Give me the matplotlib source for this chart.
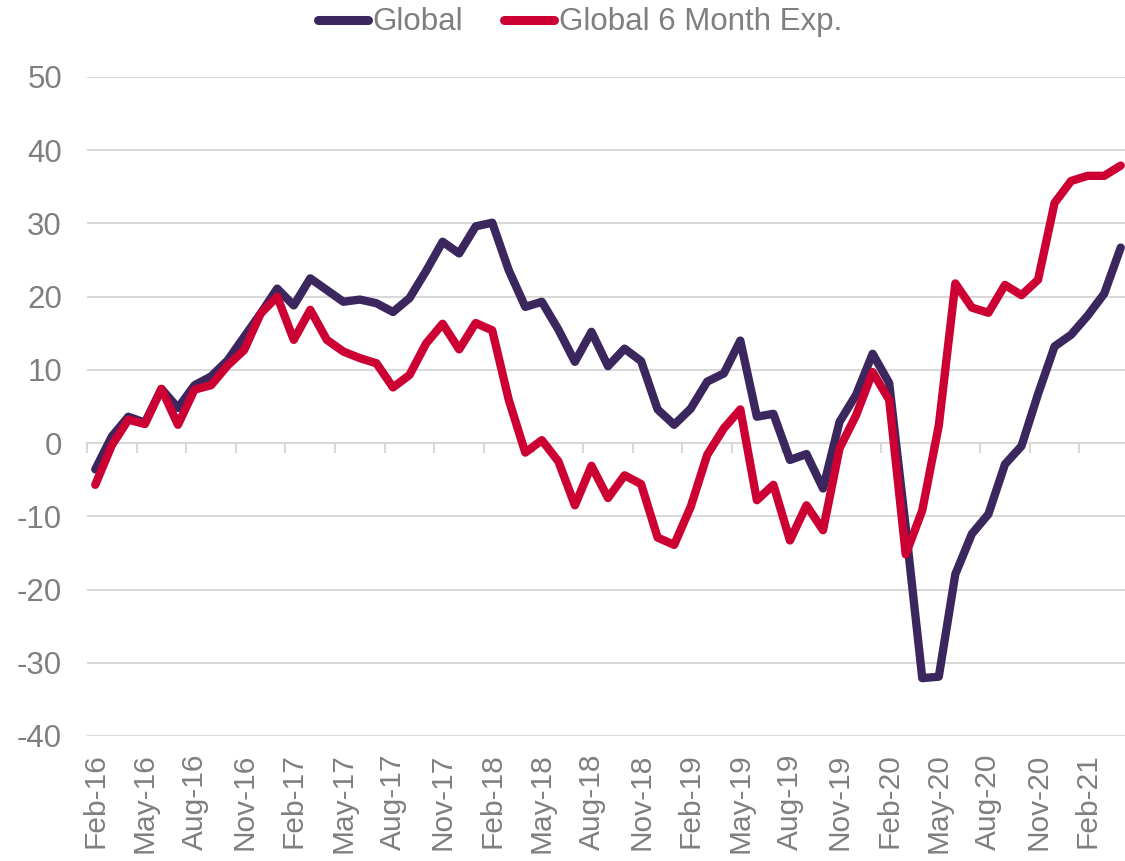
import matplotlib
matplotlib.use("Agg")
import matplotlib.pyplot as plt
import numpy as np

plt.rcParams['font.family'] = ['Liberation Sans', 'DejaVu Sans']
plt.rcParams['axes.unicode_minus'] = False

# monthly, Feb-16 .. Apr-21
months = ['Feb', 'Mar', 'Apr', 'May', 'Jun', 'Jul', 'Aug', 'Sep', 'Oct', 'Nov', 'Dec', 'Jan']
n_points = 63

global_idx = [-3.6, 0.9, 3.6, 2.8, 7.4, 4.8, 7.9, 9.1, 11.3, 14.5,
              17.7, 21.1, 18.8, 22.5, 20.9, 19.3, 19.6, 19.1, 17.9, 19.8,
              23.5, 27.5, 25.9, 29.6, 30.1, 23.6, 18.6, 19.3, 15.5, 11.1,
              15.2, 10.5, 12.9, 11.2, 4.6, 2.5, 4.7, 8.4, 9.5, 14.0,
              3.6, 4.0, -2.3, -1.5, -6.2, 2.9, 6.6, 12.2, 8.2, -11.5,
              -32.1, -31.9, -17.9, -12.4, -9.7, -2.9, -0.4, 6.7, 13.2, 14.8,
              17.4, 20.4, 26.7]

global_6m = [-5.7, -0.3, 3.2, 2.6, 7.4, 2.5, 7.3, 7.9, 10.6, 12.7,
             17.7, 20.0, 14.1, 18.2, 14.1, 12.5, 11.6, 10.9, 7.6, 9.3,
             13.6, 16.3, 12.8, 16.4, 15.4, 5.9, -1.3, 0.4, -2.5, -8.5,
             -3.1, -7.5, -4.4, -5.6, -12.9, -13.9, -8.7, -1.6, 2.0, 4.6,
             -7.8, -5.7, -13.3, -8.5, -11.9, -0.7, 3.8, 9.7, 5.9, -15.2,
             -9.2, 2.4, 21.8, 18.5, 17.8, 21.6, 20.2, 22.3, 32.8, 35.8,
             36.5, 36.5, 37.9]

# build month labels like "Feb-16"
labels = []
for i in range(n_points):
    m = months[i % 12]
    yr = 16 + (i + 1) // 12
    labels.append(f"{m}-{yr}")

PURPLE = '#3b275e'
RED = '#cc0033'
GREY = '#7f7f7f'
GRID = '#d9d9d9'

fig = plt.figure(figsize=(11.25, 8.61), dpi=100)
ax = fig.add_axes([87 / 1125, 0.1452, (1129 - 87) / 1125, 0.7654])

x = np.arange(n_points)
ax.plot(x, global_idx, color=PURPLE, lw=6, solid_joinstyle='round',
        solid_capstyle='round', label='Global', zorder=3)
ax.plot(x, global_6m, color=RED, lw=6, solid_joinstyle='round',
        solid_capstyle='round', label='Global 6 Month Exp.', zorder=4)

ax.set_xlim(-0.5, n_points - 0.5)
ax.set_ylim(-40, 50)
ax.set_yticks(np.arange(-40, 51, 10))
ax.yaxis.grid(True, color=GRID, lw=1.5)
ax.set_axisbelow(True)
for s in ax.spines.values():
    s.set_visible(False)

ax.tick_params(axis='y', length=0, pad=18, labelsize=22.5, labelcolor=GREY)
tick_pos = list(range(0, n_points, 3))
ax.set_xticks(tick_pos)
ax.set_xticklabels([labels[i] for i in tick_pos], rotation=90)
ax.tick_params(axis='x', length=0, pad=12.5, labelsize=21.5, labelcolor=GREY)

# category axis crossing at zero, ticks between categories
sec = ax.secondary_xaxis(0, transform=ax.transData)
sec.set_xticks(np.arange(-0.5, n_points, 3))
sec.set_xticklabels([])
sec.spines['bottom'].set_color(GRID)
sec.spines['bottom'].set_linewidth(1.5)
sec.tick_params(axis='x', direction='out', length=7, width=1.5, color=GRID)

leg = fig.legend(loc='upper center', bbox_to_anchor=(580 / 1125, 1.024), ncol=2,
                 frameon=False, fontsize=22.5, handlelength=1.6,
                 handletextpad=0.15, columnspacing=1.3)
for t in leg.get_texts():
    t.set_color(GREY)
for h in leg.get_lines():
    h.set_linewidth(6.5)
    h.set_solid_capstyle('round')

fig.savefig('out.png', dpi=100)
